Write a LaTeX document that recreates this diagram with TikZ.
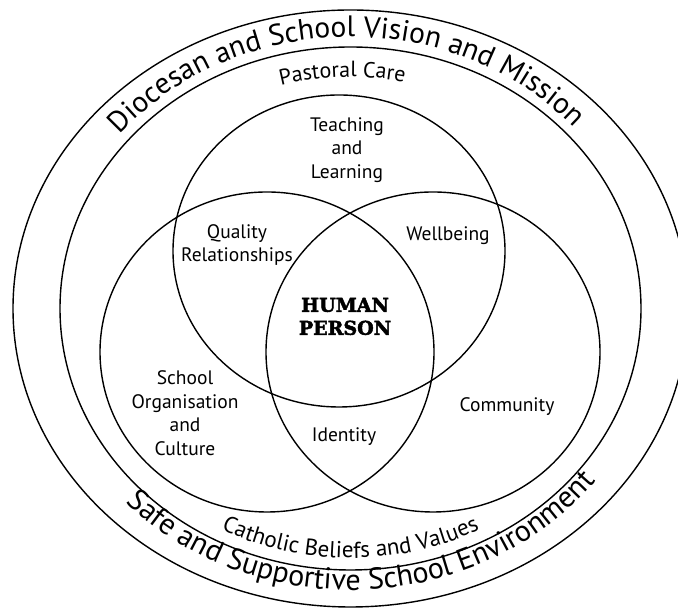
\documentclass[tikz,border=0pt]{standalone}
\usepackage{fontspec}
\setmainfont{PT Sans}
\newfontfamily\heavyserif[FakeBold=2.4]{DejaVu Serif Bold}
\usetikzlibrary{decorations.text}
\tikzset{
  lbl/.style={align=center,font=\fontsize{19.5}{23.5}\selectfont},
  core/.style={align=center,font=\heavyserif\fontsize{19}{23}\selectfont},
}
\begin{document}
\begin{tikzpicture}[x=1pt,y=1pt,line width=1.4pt]
\useasboundingbox (0,0) rectangle (678,609);
\clip (0,0) rectangle (678,609);
% outer rings
\coordinate (mid) at (350.5,300.5);
\draw (mid) ellipse[x radius=337.5,y radius=298.5];
\draw (mid) ellipse[x radius=290.5,y radius=261.5];
% the three circles
\draw (339,358) ellipse[x radius=166,y radius=156];
\draw (267,257) ellipse[x radius=167,y radius=160];
\draw (433,257) ellipse[x radius=167,y radius=160];
% texts on the rings
\path[decorate,decoration={text along path,text align=center,
  text={|\fontsize{29.5}{29.5}\selectfont|Diocesan and School Vision and Mission}}]
  (mid) ++(181:300.5 and 271.5) arc[start angle=181,end angle=1,x radius=300.5,y radius=271.5];
\path[decorate,decoration={text along path,text align=center,
  text={|\fontsize{30}{30}\selectfont|Safe and Supportive School Environment}}]
  (mid) ++(183:310.5 and 281.5) arc[start angle=183,end angle=363,x radius=310.5,y radius=281.5];
\path[decorate,decoration={text along path,text align=center,
  text={|\fontsize{22}{22}\selectfont|Pastoral Care}}]
  (mid) ++(182:260.5 and 231.5) arc[start angle=182,end angle=2,x radius=260.5,y radius=231.5];
\path[decorate,decoration={text along path,text align=center,
  text={|\fontsize{23}{23}\selectfont|Catholic Beliefs and Values}}]
  (mid) ++(180:278.5 and 249.5) arc[start angle=180,end angle=360,x radius=278.5,y radius=249.5];
% labels
\node[lbl] (teach) at (347,459) {Teaching\\and\\Learning};
\node[lbl] (quality) at (237,364) {Quality\\Relationships};
\node[lbl] (well) at (448,373) {Wellbeing};
\node[lbl] (org) at (185,196) {School\\Organisation\\and\\Culture};
\node[lbl] (ident) at (344,172) {Identity};
\node[lbl] (comm) at (507,202) {Community};
\node[core] (human) at (345,292.5) {HUMAN\\PERSON};
\end{tikzpicture}
\end{document}
